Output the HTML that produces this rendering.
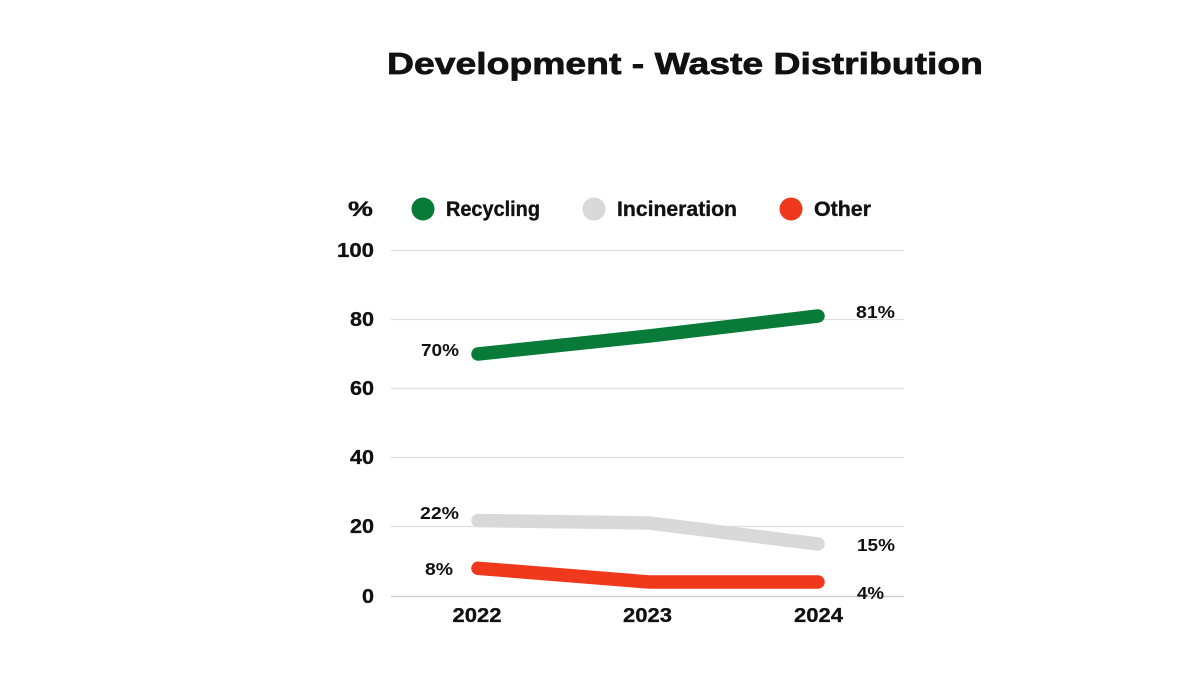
<!DOCTYPE html>
<html>
<head>
<meta charset="utf-8">
<style>
  html, body { margin:0; padding:0; background:#ffffff; }
  svg { display:block; }
  text { font-family: "Liberation Sans", "DejaVu Sans", sans-serif; font-weight:bold; fill:#111; }
</style>
</head>
<body>
<svg width="1200" height="675" viewBox="0 0 1200 675" xmlns="http://www.w3.org/2000/svg">
  <rect width="1200" height="675" fill="#ffffff"/>

  <!-- Title -->
  <text x="387" y="74" font-size="30.5" textLength="596" lengthAdjust="spacingAndGlyphs" stroke="#111" stroke-width="0.7">Development - Waste Distribution</text>

  <!-- Legend -->
  <g stroke="#111" stroke-width="0.35">
  <text x="348" y="216" font-size="21" textLength="25" lengthAdjust="spacingAndGlyphs">%</text>
  <text x="446" y="216" font-size="21" textLength="94" lengthAdjust="spacingAndGlyphs">Recycling</text>
  <text x="617" y="216" font-size="21" textLength="120" lengthAdjust="spacingAndGlyphs">Incineration</text>
  <text x="814" y="216" font-size="21" textLength="57" lengthAdjust="spacingAndGlyphs">Other</text>
  </g>
  <circle cx="423" cy="209" r="11.5" fill="#087b39"/>
  <circle cx="594" cy="209" r="11.5" fill="#d9d9d9"/>
  <circle cx="791" cy="209" r="11.5" fill="#ef381c"/>

  <!-- Gridlines -->
  <g stroke="#e0e0e0" stroke-width="1.2">
    <line x1="391" y1="250.5" x2="904" y2="250.5"/>
    <line x1="391" y1="319.5" x2="904" y2="319.5"/>
    <line x1="391" y1="388.5" x2="904" y2="388.5"/>
    <line x1="391" y1="457.5" x2="904" y2="457.5"/>
    <line x1="391" y1="526.5" x2="904" y2="526.5"/>
  </g>
  <line x1="391" y1="596.5" x2="904" y2="596.5" stroke="#cfcfcf" stroke-width="1.5"/>

  <!-- Y axis labels -->
  <g font-size="20" text-anchor="end" stroke="#111" stroke-width="0.3">
    <text x="374" y="257" textLength="37" lengthAdjust="spacingAndGlyphs">100</text>
    <text x="374" y="326" textLength="24" lengthAdjust="spacingAndGlyphs">80</text>
    <text x="374" y="395" textLength="24" lengthAdjust="spacingAndGlyphs">60</text>
    <text x="374" y="464" textLength="24" lengthAdjust="spacingAndGlyphs">40</text>
    <text x="374" y="533" textLength="24" lengthAdjust="spacingAndGlyphs">20</text>
    <text x="374" y="603" textLength="12" lengthAdjust="spacingAndGlyphs">0</text>
  </g>

  <!-- X axis labels -->
  <g font-size="20" text-anchor="middle" stroke="#111" stroke-width="0.3">
    <text x="477" y="622" textLength="49" lengthAdjust="spacingAndGlyphs">2022</text>
    <text x="647.5" y="622" textLength="49" lengthAdjust="spacingAndGlyphs">2023</text>
    <text x="818.5" y="622" textLength="49" lengthAdjust="spacingAndGlyphs">2024</text>
  </g>

  <!-- Series -->
  <g fill="none" stroke-width="13.5" stroke-linecap="round" stroke-linejoin="round">
    <polyline points="478,354 649,336 818,316" stroke="#087b39"/>
    <polyline points="478,520.5 649,523 818,544" stroke="#d9d9d9"/>
    <polyline points="478,568.3 649,582 818,582" stroke="#ef381c"/>
  </g>

  <!-- Data labels -->
  <g font-size="17.5">
    <text x="459" y="356" text-anchor="end" textLength="38" lengthAdjust="spacingAndGlyphs">70%</text>
    <text x="459" y="519" text-anchor="end" textLength="39" lengthAdjust="spacingAndGlyphs">22%</text>
    <text x="453" y="575" text-anchor="end" textLength="28" lengthAdjust="spacingAndGlyphs">8%</text>
    <text x="856" y="318" textLength="39" lengthAdjust="spacingAndGlyphs">81%</text>
    <text x="857" y="551" textLength="38" lengthAdjust="spacingAndGlyphs">15%</text>
    <text x="857" y="599" textLength="27" lengthAdjust="spacingAndGlyphs">4%</text>
  </g>
</svg>
</body>
</html>
